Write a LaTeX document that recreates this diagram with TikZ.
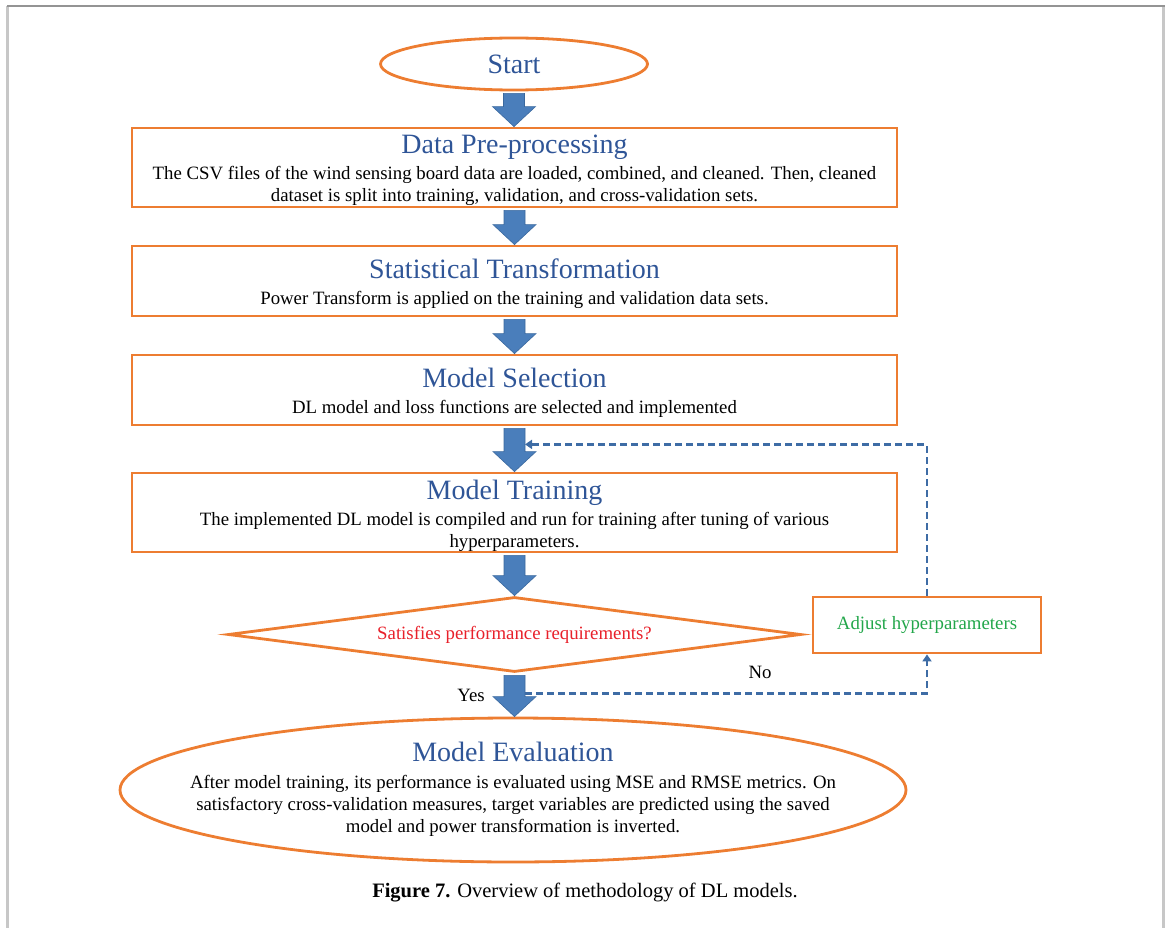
\documentclass[tikz,border=0pt]{standalone}
\usepackage{fontspec}
\setmainfont{Liberation Serif}
\usetikzlibrary{shapes.geometric,arrows.meta,calc}

\definecolor{boxorange}{HTML}{ED7D31}
\definecolor{titleblue}{HTML}{2F5597}
\definecolor{arrowfill}{HTML}{4A7EBB}
\definecolor{arrowline}{HTML}{3A689E}
\definecolor{dashblue}{HTML}{3E6CA5}
\definecolor{askred}{HTML}{E8202A}
\definecolor{adjgreen}{HTML}{22A64A}

% solid block arrow from one anchor straight down to another
\newcommand{\blockarrow}[2]{%
  \fill[arrowfill, draw=arrowline, line width=0.6pt] let \p1=(#1), \p2=(#2) in
    (\x1-10.5pt,\y1-2pt) -- (\x1+10.5pt,\y1-2pt) -- (\x1+10.5pt,\y2+20pt)
    -- (\x1+21.5pt,\y2+20pt) -- (\x1,\y2) -- (\x1-21.5pt,\y2+20pt)
    -- (\x1-10.5pt,\y2+20pt) -- cycle;}

\newcommand{\heading}[1]{{\fontsize{28}{30}\selectfont\color{titleblue}#1}}

\begin{document}
\begin{tikzpicture}[x=1pt,y=-1pt,
  every node/.style={font=\fontsize{18.8}{22}\selectfont},
  stagebox/.style={draw=boxorange, line width=2.8pt, rectangle, minimum width=765pt,
    inner sep=0pt},
  stagetext/.style={align=center, inner sep=0pt},
  oval/.style={draw=boxorange, line width=2.8pt, ellipse, inner sep=0pt},
  fbline/.style={dashblue, line width=2.4pt, dash pattern=on 7pt off 4pt,
    -{Triangle[width=9pt,length=7pt]}},
  frameside/.style={draw=black!22, line width=2.5pt},
  frametop/.style={draw=black!42, line width=1.6pt}]

\useasboundingbox (0,0) rectangle (1167,928);

% page frame
\draw[frameside] (7.5,6) -- (7.5,930);
\draw[frameside] (1163.5,6) -- (1163.5,930);
\draw[frametop] (7,6) -- (1164.5,6);

% flow stages
\node[oval, minimum width=267pt, minimum height=52pt] (start) at (514,64) {};
\node (starttext) at (start.center) {\heading{Start}};

\node[stagebox, minimum height=79pt] (prep) at (514.5,167.5) {};
\node[stagetext] (preptext) at ($(prep.center)+(0,3)$)
  {\heading{Data Pre-processing}\\[4pt]
   The CSV files of the wind sensing board data are loaded, combined, and cleaned. Then, cleaned\\
   dataset is split into training, validation, and cross-validation sets.};

\node[stagebox, minimum height=70pt] (stat) at (514.5,281) {};
\node[stagetext] (stattext) at ($(stat.center)+(0,2.5)$)
  {\heading{Statistical Transformation}\\[4pt]
   Power Transform is applied on the training and validation data sets.};

\node[stagebox, minimum height=70pt] (sel) at (514.5,390) {};
\node[stagetext] (seltext) at ($(sel.center)+(0,3)$)
  {\heading{Model Selection}\\[4pt]
   DL model and loss functions are selected and implemented};

\node[stagebox, minimum height=79pt] (train) at (514.5,512.5) {};
\node[stagetext] (traintext) at ($(train.center)+(0,3)$)
  {\heading{Model Training}\\[4pt]
   The implemented DL model is compiled and run for training after tuning of various\\
   hyperparameters.};

\node[draw=boxorange, line width=2.8pt, diamond, aspect=7.6, inner sep=0pt,
  minimum width=573pt, minimum height=75pt] (check) at (514.5,634.5)
  {\textcolor{askred}{Satisfies performance requirements?}};

\node[draw=boxorange, line width=2.8pt, rectangle, minimum width=228pt,
  minimum height=56pt, inner sep=0pt] (adjust) at (927,625)
  {\textcolor{adjgreen}{Adjust hyperparameters}};

\node[oval, minimum width=786pt, minimum height=144pt] (eval) at (513,790) {};
\node[stagetext] (evaltext) at ($(eval.center)+(0,-1)$)
  {\heading{Model Evaluation}\\[5pt]
   After model training, its performance is evaluated using MSE and RMSE metrics. On\\
   satisfactory cross-validation measures, target variables are predicted using the saved\\
   model and power transformation is inverted.};

% main flow arrows
\blockarrow{start.south}{prep.north}
\blockarrow{prep.south}{stat.north}
\blockarrow{stat.south}{sel.north}
\blockarrow{sel.south}{train.north}
\blockarrow{train.south}{check.north}
\blockarrow{check.south}{eval.north}

% tuning loop
\coordinate (retrain) at ($(sel.south)+(10.5,18)$);
\coordinate (failout) at ($(check.south)+(10.5,20)$);
\draw[fbline] (adjust.north) |- (retrain);
\draw[fbline] (failout) -| (adjust.south);

\node (no) at (760,672) {No};
\node (yes) at (471,695) {Yes};

% caption
\node[font=\fontsize{20.5}{24}\selectfont] (caption) at (585,893)
  {\textbf{Figure 7.} Overview of methodology of DL models.};
\end{tikzpicture}
\end{document}
